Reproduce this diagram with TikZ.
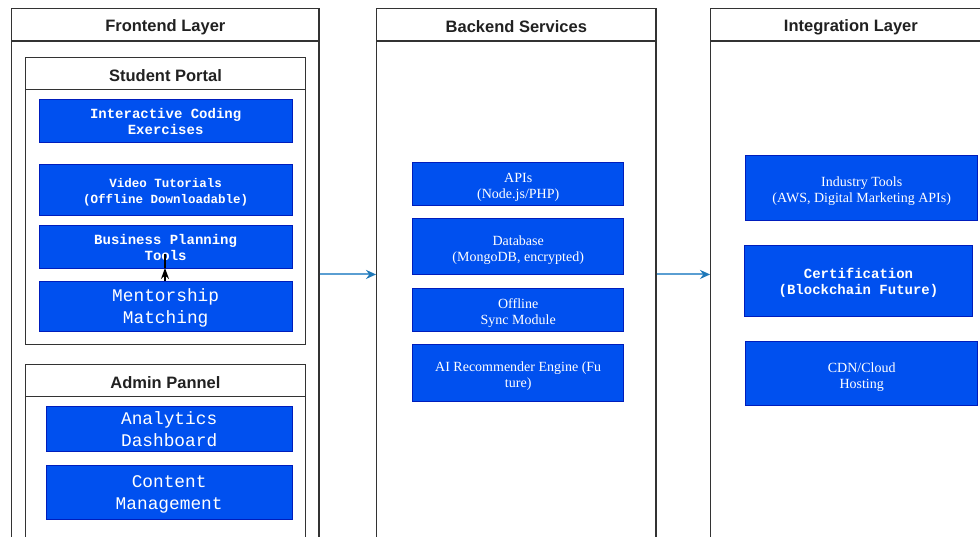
\documentclass[tikz,border=0pt]{standalone}
\usepackage{fontspec}
\setmainfont{Liberation Serif}
\newfontfamily\hdrfont{Liberation Sans}
\newfontfamily\monofnt{Liberation Mono}
\usetikzlibrary{arrows.meta}
\definecolor{bluefill}{HTML}{0050EF}
\definecolor{bluedraw}{HTML}{001DBC}
\definecolor{framec}{HTML}{333333}
\definecolor{flowc}{HTML}{5A9ED2}
\definecolor{flowtip}{HTML}{1F78B8}
\newcommand\boxlower{0pt}
\newcommand\boxtext[1]{\raisebox{0pt}[\dimexpr\height+\boxlower\relax][\dimexpr\depth-\boxlower\relax]{\begin{tabular}{@{}c@{}}#1\end{tabular}}}
\begin{document}
\begin{tikzpicture}[x=1pt,y=-1pt,
 corners/.style n args={4}{minimum width={#3-#1}, minimum height={#4-#2}, at={({(#1+#3)/2},{(#2+#4)/2})}},
 lowerby/.style={execute at begin node={\def\boxlower{#1}}},
 frame/.style={draw=framec, line width=1.3pt, fill=white, inner sep=0pt},
 hdr/.style={frame, font=\hdrfont\bfseries\fontsize{16.5}{20}\selectfont, text=black!87,
   execute at begin node={\rule{0pt}{\dimexpr\fontcharht\font`(+5pt\relax}}},
 bbox/.style={draw=bluedraw, fill=bluefill, line width=0.9pt, inner sep=0pt, text=white},
 cb/.style={bbox, font=\monofnt\bfseries\fontsize{14}{16}\selectfont, lowerby=2.5pt},
 cbs/.style={bbox, font=\monofnt\bfseries\fontsize{12.5}{16}\selectfont, lowerby=2.5pt},
 cr/.style={bbox, font=\monofnt\fontsize{17.8}{22}\selectfont, lowerby=2pt},
 tr/.style={bbox, font=\fontsize{14}{16}\selectfont, lowerby=3.5pt},
 flow/.style={draw=flowc, line width=2pt, -{Stealth[length=10pt,width=9pt,color=flowtip]}},
 inner/.style={draw=black, line width=1.2pt}]

\clip (0,0) rectangle (980,537);
\fill[white] (0,0) rectangle (980,537);

% Frontend layer
\node[frame, corners={11.7}{8.3}{319}{560}] (fe) {};
\node[hdr, corners={11.7}{8.3}{319}{41}] (feh) {Frontend Layer};

\node[frame, corners={25.7}{57.7}{305.3}{344.3}] (sp) {};
\node[hdr, corners={25.7}{57.7}{305.3}{89.3}] (sph) {Student Portal};
\node[cb, corners={39}{99}{292.3}{142.3}] (ice) {\boxtext{Interactive Coding\\Exercises}};
\node[cbs, corners={39}{164.7}{292.3}{215}] (vid) {\boxtext{Video Tutorials\\(Offline Downloadable)}};
\node[cb, corners={39}{225.7}{292.3}{268.3}] (bus) {\boxtext{Business Planning\\Tools}};
\node[cr, corners={39}{281.7}{292.3}{331}] (men) {\boxtext{Mentorship\\Matching}};

\node[frame, corners={25.7}{364.3}{305.3}{560}] (ap) {};
\node[hdr, corners={25.7}{364.3}{305.3}{396.7}] (aph) {Admin Pannel};
\node[cr, corners={46}{406}{292.3}{451.7}] (ana) {\boxtext{Analytics\\Dashboard}};
\node[cr, corners={46}{465.7}{292.3}{519}] (con) {\boxtext{Content\\Management}};

% Backend services
\node[frame, corners={376.7}{8.3}{656}{560}] (be) {};
\node[hdr, corners={376.7}{8.3}{656}{41}] (beh) {Backend Services};
\node[tr, corners={412.7}{162.3}{623.7}{205}] (api) {\boxtext{APIs\\(Node.js/PHP)}};
\node[tr, corners={412.7}{218.7}{623.7}{274}] (db) {\boxtext{Database\\(MongoDB, encrypted)}};
\node[tr, corners={412.7}{288.7}{623.7}{331.3}] (off) {\boxtext{Offline\\Sync Module}};
\node[tr, corners={412.7}{344.7}{623.7}{401}] (ai) {\boxtext{AI Recommender Engine (Fu\\ture)}};

% Integration layer
\node[frame, corners={710.7}{8.3}{991}{560}] (ig) {};
\node[hdr, corners={710.7}{8.3}{991}{41}] (igh) {Integration Layer};
\node[tr, corners={745.7}{155.3}{977.7}{220.7}] (ind) {\boxtext{Industry Tools\\(AWS, Digital Marketing APIs)}};
\node[cb, corners={744.3}{245}{972.7}{316}] (cert) {\boxtext{Certification\\(Blockchain Future)}};
\node[tr, corners={745.7}{341.7}{977.7}{405.7}] (cdn) {\boxtext{CDN/Cloud\\Hosting}};

% connectors
\draw[flow] (fe.east |- db.south) -- (be.west |- db.south);
\draw[flow] (be.east |- db.south) -- (ig.west |- db.south);

\coordinate (btip) at (165,268);
\coordinate (btop) at (165,254);
\draw[inner, -{Stealth[length=11pt,width=8pt]}] (men.north -| btip) -- (btip);
\draw[inner] (btip) -- (btop);
\end{tikzpicture}
\end{document}
